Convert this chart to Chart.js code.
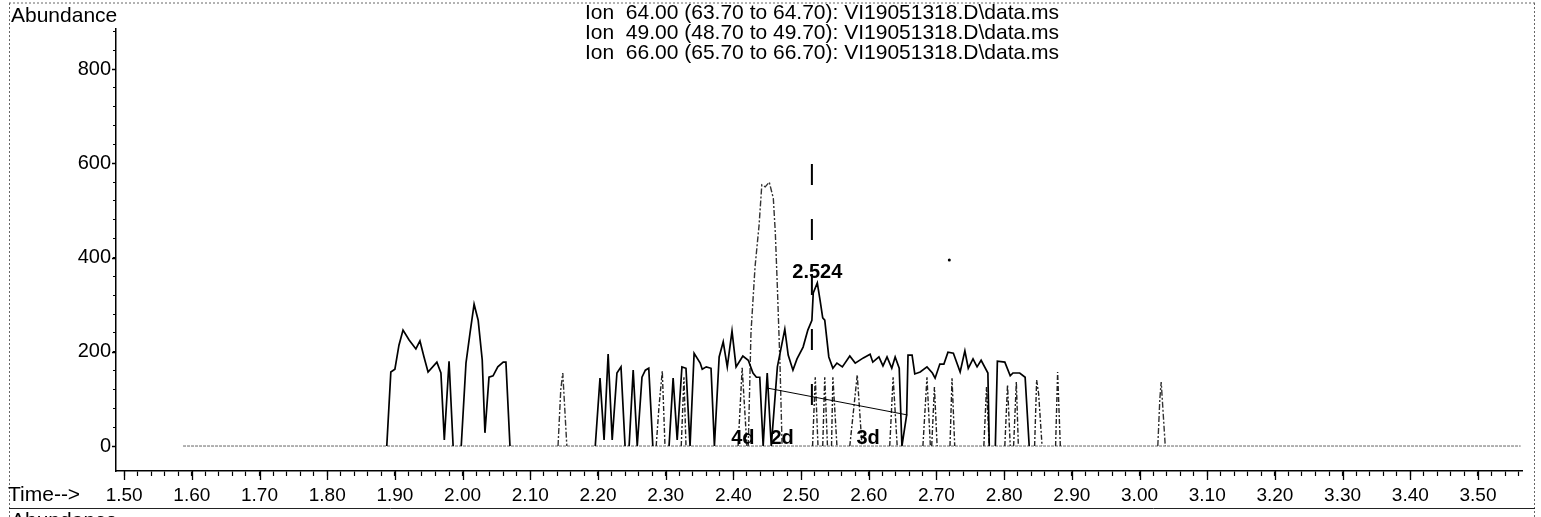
<!DOCTYPE html>
<html>
<head>
<meta charset="utf-8">
<title>Ion chromatogram</title>
<script src="https://cdn.jsdelivr.net/npm/chart.js@4/dist/chart.umd.min.js"></script>
<style>
  body { margin: 0; background: #fff; }
  #wrap { width: 1541px; height: 517px; }
</style>
</head>
<body>
<div id="wrap"><canvas id="chroma" width="1541" height="517"></canvas></div>
<script>
// DATA (time in min, abundance), null = gap in the trace
var ion64Time = [1.888, 1.894, 1.900, 1.906, 1.912, 1.921, 1.931, 1.937, 1.943, 1.949, 1.962, 1.968, 1.973, 1.980, 1.986, 1.992,
    1.998, 2.005, 2.011, 2.017, 2.023, 2.029, 2.033, 2.039, 2.045, 2.052, 2.060, 2.064, 2.070, 2.100,
    2.196, 2.203, 2.209, 2.215, 2.221, 2.228, 2.234, 2.240, 2.243,
    2.246, 2.252, 2.258, 2.265, 2.270, 2.275, 2.281, 2.290,
    2.305, 2.311, 2.317, 2.324, 2.330, 2.336, 2.342, 2.351, 2.354, 2.360,
    2.367, 2.372, 2.379, 2.385, 2.391, 2.398, 2.404, 2.414, 2.422, 2.429,
    2.434, 2.439, 2.444, 2.450, 2.456, 2.465, 2.469, 2.476, 2.481, 2.488,
    2.494, 2.503, 2.510, 2.516, 2.518, 2.524, 2.528, 2.532, 2.535, 2.541,
    2.547, 2.553, 2.561, 2.572, 2.580, 2.592, 2.602, 2.606, 2.615, 2.621,
    2.627, 2.634, 2.639, 2.645, 2.649, 2.656, 2.658, 2.664, 2.668, 2.676,
    2.686, 2.694, 2.698, 2.705, 2.711, 2.717, 2.725, 2.735, 2.742, 2.747,
    2.754, 2.760, 2.766, 2.776, 2.778, 2.782,
    2.787, 2.790, 2.801, 2.809, 2.813, 2.823, 2.831, 2.837];
var ion64Abund = [0, 157, 163, 214, 246, 225, 206, 223, 189, 157, 178, 155, 13, 180, 0, null,
    0, 176, 240, 301, 267, 183, 28, 146, 149, 168, 178, 178, 0, null,
    0, 144, 13, 195, 13, 155, 168, 0, null,
    0, 161, 0, 146, 161, 165, 0, null,
    0, 144, 13, 168, 165, 0, 197, 176, 163, 168,
    165, 0, 189, 221, 168, 244, 168, 191, 182, 155,
    146, 146, 0, 155, 0, 168, 197, 248, 193, 161,
    185, 210, 246, 267, 325, 346, 310, 272, 267, 189,
    165, 176, 168, 191, 176, 187, 195, 178, 189, 170,
    189, 165, 189, 165, 0, 66, 193, 193, 153, 157,
    168, 155, 144, 174, 174, 199, 197, 157, 202, 165,
    185, 168, 182, 155, 0, null,
    0, 180, 178, 149, 155, 155, 146, 0];

var ion49Time = [2.141, 2.145, 2.148, 2.154, 2.300,
    2.422, 2.426, 2.432, 2.438, 2.442, 2.447, 2.453, 2.459, 2.462, 2.465, 2.469, 2.472, 2.750,
    3.027, 3.030, 3.032, 3.038];
var ion49Abund = [0, 119, 155, 0, null,
    0, 240, 380, 469, 554, 550, 560, 526, 452, 337, 168, 0, null,
    0, 100, 136, 0];

var ion66Time = [2.286, 2.290, 2.295, 2.299, 2.310,
    2.323, 2.327, 2.330, 2.350,
    2.407, 2.413, 2.420, 2.500,
    2.517, 2.521, 2.525, 2.528,
    2.532, 2.535, 2.539, 2.542,
    2.545, 2.547, 2.553, 2.560,
    2.572, 2.583, 2.590, 2.600,
    2.631, 2.636, 2.642, 2.660,
    2.680, 2.686, 2.691, 2.692,
    2.693, 2.697, 2.701, 2.710,
    2.720, 2.723, 2.727, 2.750,
    2.770, 2.774, 2.778, 2.790,
    2.801, 2.805, 2.809, 2.811,
    2.814, 2.818, 2.821, 2.830,
    2.845, 2.848, 2.851, 2.856, 2.866,
    2.876, 2.879, 2.883];
var ion66Abund = [0, 81, 159, 0, null,
    0, 146, 0, null,
    0, 166, 0, null,
    0, 146, 0, null,
    0, 146, 0, null,
    0, 146, 0, null,
    0, 151, 0, null,
    0, 146, 0, null,
    0, 146, 0, null,
    0, 125, 0, null,
    0, 144, 0, null,
    0, 125, 0, null,
    0, 130, 0, null,
    0, 136, 0, null,
    0, 140, 110, 0, null,
    0, 157, 0];

var baselineTime = [1.587, 3.563];
var baselineAbund = [0, 0];

// retention time marker and integration baseline
var markerTime = [2.516, 2.516];
var markerAbund = [87, 607];
var integTime = [2.450, 2.657];
var integAbund = [123, 66];
var dotTime = [2.719];
var dotAbund = [395];

var peakLabels = ['2.524', '4d', '2d', '3d'];
var peakLabelTime = [2.524, 2.414, 2.472, 2.599];
var peakLabelAbund = [369, 17, 17, 17];

var titleLines = [
    'Ion  64.00 (63.70 to 64.70): VI19051318.D\\data.ms',
    'Ion  49.00 (48.70 to 49.70): VI19051318.D\\data.ms',
    'Ion  66.00 (65.70 to 66.70): VI19051318.D\\data.ms'
];

var FONT = '"Liberation Sans", Arial, sans-serif';

function toPoints(times, values) {
    var pts = [];
    for (var i = 0; i < times.length; i++) {
        pts.push({x: times[i], y: values[i]});
    }
    return pts;
}

function isMajorX(v) {
    return Math.round(v * 100) % 10 === 0;
}

function isMajorY(v) {
    return Math.round(v) % 200 === 0;
}

// frame, labels, long ticks
var decorPlugin = {
    id: 'decor',
    afterDraw: function (chart) {
        var ctx = chart.ctx, xs = chart.scales.x, ys = chart.scales.y, area = chart.chartArea;
        ctx.save();

        // dotted page frame
        ctx.strokeStyle = '#666';
        ctx.lineWidth = 1;
        ctx.setLineDash([2, 2]);
        ctx.beginPath();
        ctx.moveTo(9, 3); ctx.lineTo(1535, 3);
        ctx.moveTo(9.5, 3); ctx.lineTo(9.5, 517);
        ctx.moveTo(1534.5, 3); ctx.lineTo(1534.5, 517);
        ctx.stroke();
        ctx.setLineDash([]);
        ctx.strokeStyle = '#222';
        ctx.beginPath();
        ctx.moveTo(9, 508.5); ctx.lineTo(1535, 508.5);
        ctx.stroke();

        // major ticks longer
        ctx.strokeStyle = '#000';
        ctx.lineWidth = 1.3;
        ctx.beginPath();
        xs.ticks.forEach(function (t) {
            if (isMajorX(t.value)) {
                var px = Math.round(xs.getPixelForValue(t.value)) + 0.5;
                ctx.moveTo(px, area.bottom);
                ctx.lineTo(px, area.bottom + 9);
            }
        });
        ys.ticks.forEach(function (t) {
            if (t.value >= 0 && isMajorY(t.value)) {
                var py = Math.round(ys.getPixelForValue(t.value)) + 0.5;
                ctx.moveTo(area.left, py);
                ctx.lineTo(area.left - 4, py);
            }
        });
        ctx.stroke();

        ctx.fillStyle = '#000';
        ctx.font = '21px ' + FONT;
        ctx.textBaseline = 'middle';
        ctx.textAlign = 'left';
        ctx.fillText('Abundance', 11, 16);
        ctx.fillText('Time-->', 8, 495);
        ctx.textBaseline = 'top';
        ctx.fillText('Abundance', 11, 511);

        // title lines over the plot
        ctx.textAlign = 'center';
        ctx.textBaseline = 'middle';
        var cx = (area.left + area.right) / 2 + 3;
        titleLines.forEach(function (s, i) {
            ctx.fillText(s, cx, 13 + i * 20);
        });

        // peak labels
        ctx.font = 'bold 20px ' + FONT;
        for (var i = 0; i < peakLabels.length; i++) {
            ctx.fillText(peakLabels[i], xs.getPixelForValue(peakLabelTime[i]), ys.getPixelForValue(peakLabelAbund[i]));
        }
        ctx.restore();
    }
};

new Chart(document.getElementById('chroma'), {
    type: 'line',
    data: {
        datasets: [
            {
                label: 'marker',
                data: toPoints(markerTime, markerAbund),
                borderColor: '#000',
                borderWidth: 2,
                borderDash: [21, 34],
                order: 0
            },
            {
                label: 'integration',
                data: toPoints(integTime, integAbund),
                borderColor: '#000',
                borderWidth: 1,
                order: 1
            },
            {
                label: 'Ion 64.00',
                data: toPoints(ion64Time, ion64Abund),
                borderColor: '#000',
                borderWidth: 1.7,
                order: 2
            },
            {
                label: 'Ion 49.00',
                data: toPoints(ion49Time, ion49Abund),
                borderColor: '#333',
                borderWidth: 1.4,
                borderDash: [6, 2, 2, 2],
                order: 3
            },
            {
                label: 'Ion 66.00',
                data: toPoints(ion66Time, ion66Abund),
                borderColor: '#222',
                borderWidth: 1.4,
                borderDash: [5, 2, 2, 2],
                order: 4
            },
            {
                label: 'dot',
                data: toPoints(dotTime, dotAbund),
                showLine: false,
                pointRadius: 1.5,
                pointBackgroundColor: '#000',
                pointBorderWidth: 0,
                order: 5
            },
            {
                label: 'baseline',
                data: toPoints(baselineTime, baselineAbund),
                borderColor: '#666',
                borderWidth: 1,
                borderDash: [3, 1],
                order: 6
            }
        ]
    },
    options: {
        responsive: false,
        animation: false,
        devicePixelRatio: 1,
        spanGaps: false,
        layout: {padding: {top: 29, right: 19, left: 0, bottom: 0}},
        elements: {
            point: {radius: 0},
            line: {tension: 0, borderCapStyle: 'butt', borderJoinStyle: 'miter'}
        },
        plugins: {
            legend: {display: false},
            tooltip: {enabled: false},
            title: {display: false}
        },
        scales: {
            x: {
                type: 'linear',
                min: 1.488,
                max: 3.565,
                border: {display: true, color: '#000', width: 1.5},
                grid: {drawOnChartArea: false, drawTicks: true, tickLength: 5, tickColor: '#000', tickWidth: 1.2},
                ticks: {
                    stepSize: 0.02,
                    includeBounds: false,
                    autoSkip: false,
                    maxRotation: 0,
                    padding: 8,
                    color: '#000',
                    font: {family: FONT, size: 19},
                    callback: function (v) {
                        return isMajorX(v) ? v.toFixed(2) : '';
                    }
                },
                afterFit: function (scale) { scale.height = 46; }
            },
            y: {
                type: 'linear',
                min: -53,
                max: 885,
                border: {display: true, color: '#000', width: 1.5},
                grid: {
                    drawOnChartArea: false, drawTicks: true, tickLength: 3, tickWidth: 1,
                    tickColor: function (c) { return c.tick && c.tick.value < 0 ? 'rgba(0,0,0,0)' : '#000'; }
                },
                ticks: {
                    stepSize: 40,
                    includeBounds: false,
                    autoSkip: false,
                    padding: 2,
                    color: '#000',
                    font: {family: FONT, size: 20},
                    callback: function (v) {
                        return (v >= 0 && isMajorY(v)) ? String(Math.round(v)) : '';
                    }
                },
                afterFit: function (scale) { scale.width = 116; }
            }
        }
    },
    plugins: [decorPlugin]
});
</script>
</body>
</html>
